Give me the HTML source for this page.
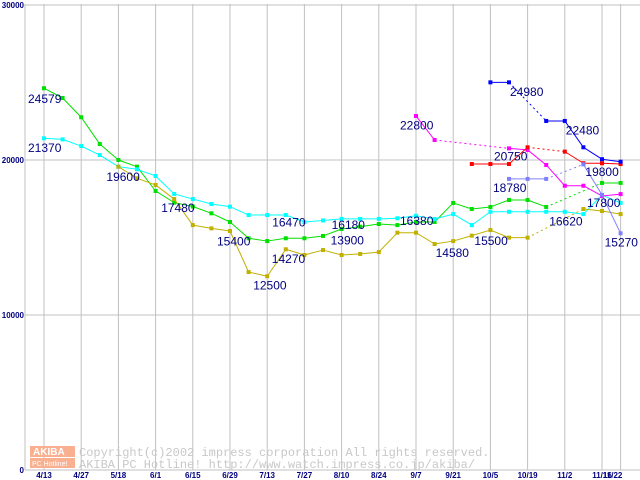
<!DOCTYPE html>
<html><head><meta charset="utf-8"><style>
body{margin:0;background:#fff;}
svg{display:block;font-family:"Liberation Sans",sans-serif;}
</style></head><body>
<svg id="chart" width="640" height="480" xmlns="http://www.w3.org/2000/svg">
<g id="grid"></g>
<g id="watermark">
<rect x="30" y="446" width="45" height="11" fill="#f8b090"/>
<rect x="30" y="458" width="45" height="10" fill="#f8b090"/>
<text x="33" y="455" font-size="10" fill="#fff" font-weight="bold">AKIBA</text>
<text x="32" y="466" font-size="7" fill="#fff">PC Hotline!</text>
<text x="79" y="456" font-size="12" fill="#c8c8c8" font-family="Liberation Mono">Copyright(c)2002 impress corporation All rights reserved.</text>
<text x="79" y="468" font-size="12" fill="#c8c8c8" font-family="Liberation Mono">AKIBA PC Hotline!  http://www.watch.impress.co.jp/akiba/</text>
</g>
<g id="series"></g>
<g id="labels"></g>
</svg>
<script>
const categories=["4/13","4/20","4/27","5/4","5/18","5/25","6/1","6/8","6/15","6/22","6/29","7/6","7/13","7/20","7/27","8/3","8/10","8/17","8/24","8/31","9/7","9/14","9/21","9/28","10/5","10/12","10/19","10/26","11/2","11/9","11/16","11/22"];
const yTicks=[0,10000,20000,30000];
const N=null;
const greenVals=[24630,24000,22760,21030,20000,19570,18000,17250,17000,16560,16000,14950,14770,14950,14950,15100,15550,15700,15870,15800,16000,16000,17230,16840,16970,17420,17420,16970,N,N,18520,18520];
const cyanVals=[21400,21330,20900,20320,19570,19400,18970,17810,17480,17160,16990,16450,16450,16450,16000,16100,16200,16200,16200,16240,16400,16190,16510,15800,16660,16660,16660,16660,16660,16510,17740,17230];
const oliveVals=[N,N,N,N,19570,18820,18390,17480,15800,15590,15420,12770,12500,14240,13870,14190,13870,13940,14060,15310,15310,14580,14770,15120,15480,14990,14990,N,N,16840,16710,16510];
const magentaVals=[N,N,N,N,N,N,N,N,N,N,N,N,N,N,N,N,N,N,N,N,22840,21290,N,N,N,20750,20650,19680,18340,18340,17680,17800];
const redVals=[N,N,N,N,N,N,N,N,N,N,N,N,N,N,N,N,N,N,N,N,N,N,N,19740,19740,19740,20820,N,20540,19790,19790,19740];
const blueVals=[N,N,N,N,N,N,N,N,N,N,N,N,N,N,N,N,N,N,N,N,N,N,N,N,25010,25010,N,22520,22520,20820,20050,19890];
const lightBlueVals=[N,N,N,N,N,N,N,N,N,N,N,N,N,N,N,N,N,N,N,N,N,N,N,N,N,18780,18780,18780,N,19720,17750,15270];
const labelTexts=["24579","21370","19600","17480","15400","12500","14270","16470","16180","13900","16380","14580","15500","22800","20750","18780","24980","22480","19800","16620","17800","15270"];
const labelIdx=[0,0,4,7,10,12,13,12,16,16,20,21,24,20,25,25,25,28,29,27,30,31];
const labelVals=[24579,21370,19600,17480,15400,12500,14270,16470,16180,13900,16380,14580,15500,22800,20750,18780,24980,22480,19800,16620,17800,15270];
const labelDx=[-16,-16,-12,-13,-13,-14,-14,5,-10,-11,-16,1,-16,-16,-15,-16,1,1,2,3,-15,-16];
const labelDy=[14,13,15,13,14,13,14,12,10,-10,9,13,15,13,12,13,13,13,13,13,13,13];

const ns="http://www.w3.org/2000/svg";
const X0=44,DX=18.6,Y0=470,YS=310/20000;
function xs(i){return X0+i*DX;}
function ys(v){return Y0-v*YS;}
function mk(tag,attrs,parent){const e=document.createElementNS(ns,tag);for(const k in attrs)e.setAttribute(k,attrs[k]);parent.appendChild(e);return e;}
const grid=document.getElementById('grid');
for(let i=0;i<categories.length;i+=2){
 const l=mk('line',{x1:xs(i),x2:xs(i),y1:4,y2:470,stroke:'#c0c0c0'},grid);
 
 
}
{const i=categories.length-1;const l=mk('line',{x1:xs(i),x2:xs(i),y1:4,y2:470,stroke:'#c0c0c0'},grid);
 
 }
yTicks.forEach(v=>{
 const l=mk('line',{x1:25,x2:640,y1:ys(v),y2:ys(v),stroke:'#c0c0c0'},grid);
 
 
 const t=mk('text',{x:24,y:ys(v)+3,'text-anchor':'end','font-size':8,'font-weight':'bold',fill:'#000080'},grid);
 t.textContent=String(v);
 
 
});
mk('line',{x1:25,x2:25,y1:4,y2:470,stroke:'#c0c0c0'},grid);
const xl=[];
for(let i=0;i<categories.length;i+=2)xl.push(i);
xl.push(categories.length-1);
xl.forEach(i=>{
 const t=mk('text',{x:xs(i)+(i==31?-8:0),y:478,'text-anchor':'middle','font-size':8,'font-weight':'bold',fill:'#000080'},grid);
 t.textContent=categories[i];
 
 
});
const sg=document.getElementById('series');
function drawSeries(vals,color,name){
 const g=mk('g',{},sg);
 
 
 let prev=-1;
 for(let i=0;i<vals.length;i++){
  if(vals[i]==null)continue;
  if(prev>=0){
   const gap=i-prev>1;
   const l=mk('line',{x1:xs(prev),y1:ys(vals[prev]),x2:xs(i),y2:ys(vals[i]),stroke:color,'stroke-width':1},g);
   if(gap)l.setAttribute('stroke-dasharray','2,3');
   
   
  }
  prev=i;
 }
 for(let i=0;i<vals.length;i++){
  if(vals[i]==null)continue;
  const r=mk('rect',{x:xs(i)-2,y:ys(vals[i])-2,width:4,height:4,fill:color},g);
  
  
 }
}
drawSeries(greenVals,'#00e000','series-green');
drawSeries(cyanVals,'#00ffff','series-cyan');
drawSeries(oliveVals,'#c0b000','series-olive');
drawSeries(magentaVals,'#ff00ff','series-magenta');
drawSeries(redVals,'#ff0000','series-red');
drawSeries(blueVals,'#0000ff','series-blue');
drawSeries(lightBlueVals,'#8080ff','series-lightblue');
const lg=document.getElementById('labels');
labelTexts.forEach((s,k)=>{
 const t=mk('text',{x:xs(labelIdx[k])+labelDx[k],y:ys(labelVals[k])+labelDy[k],'font-size':12,fill:'#000080'},lg);
 t.textContent=s;
 
 
});
</script>
</body></html>
